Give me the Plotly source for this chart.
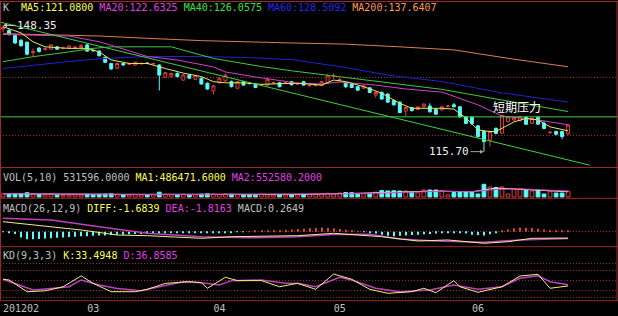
import plotly.graph_objects as go

# ---------------- data ----------------
opens = [147.4, 147.0, 145.8, 144.5, 144.0, 141.3, 142.5, 142.1, 142.2, 142.8,
         142.35, 142.4, 142.5, 142.6, 143.3, 141.9, 141.7, 140.1, 138.5, 137.3,
         138.5, 138.3, 138.1, 138.4, 138.6, 138.4, 138.1, 134.9, 135.1, 135.9,
         134.2, 135.5, 134.4, 134.7, 133.4, 131.4, 133.5, 134.0, 133.8, 132.1,
         133.8, 133.4, 133.1, 132.9, 132.9, 133.4, 133.5, 133.4, 133.8, 133.15,
         133.8, 132.7, 132.8, 132.8, 133.5, 135.2, 134.2, 133.4, 133.1, 132.5,
         132.1, 132.2, 130.3, 131.0, 130.6, 128.9, 128.5, 126.2, 127.1, 126.6,
         127.3, 127.5, 126.6, 126.5, 127.4, 127.8, 127.3, 124.7, 124.6, 122.4,
         120.9, 118.7, 121.7, 120.5, 123.5, 123.9, 123.7, 124.6, 123.0, 124.6,
         123.0, 120.6, 120.9, 120.9, 120.3]
closes = [147.8, 146.0, 143.8, 143.1, 140.9, 141.6, 141.6, 142.3, 143.3, 142.2,
          142.45, 143.0, 142.7, 143.1, 141.7, 141.8, 140.5, 138.8, 137.1, 138.5,
          138.1, 138.4, 138.8, 138.5, 138.5, 138.5, 135.5, 136.1, 135.9, 135.1,
          135.5, 134.7, 135.3, 133.2, 131.9, 132.7, 134.7, 135.4, 132.5, 133.8,
          132.9, 133.3, 132.3, 133.0, 134.4, 133.5, 132.5, 133.5, 133.0, 133.25,
          132.9, 132.8, 132.85, 133.8, 135.3, 135.3, 134.3, 132.5, 132.3, 131.6,
          132.7, 131.0, 131.0, 129.3, 128.5, 127.8, 125.8, 127.1, 126.3, 127.3,
          128.0, 126.0, 125.4, 127.3, 127.5, 127.3, 124.7, 123.0, 123.0, 119.6,
          118.3, 120.9, 120.4, 125.0, 124.7, 124.5, 124.7, 122.8, 124.3, 122.8,
          121.7, 120.7, 120.2, 119.6, 122.6]
highs = [148.35, 147.5, 146.2, 144.8, 144.2, 142.4, 142.7, 142.6, 143.5, 143.0,
         142.7, 143.2, 143.0, 143.5, 143.6, 142.1, 141.9, 140.3, 138.6, 138.7,
         138.7, 138.7, 139.0, 138.7, 138.8, 138.7, 138.3, 136.3, 136.1, 136.2,
         135.8, 135.8, 135.6, 134.9, 133.6, 132.9, 134.9, 135.9, 134.1, 134.0,
         134.0, 133.7, 133.3, 133.2, 134.9, 133.8, 133.7, 133.8, 134.0, 133.5,
         134.0, 133.1, 133.2, 134.0, 135.8, 136.0, 134.7, 133.6, 133.3, 132.7,
         133.0, 132.4, 131.3, 131.3, 130.8, 129.2, 128.7, 127.3, 127.3, 127.5,
         128.2, 128.2, 126.8, 127.6, 127.8, 128.3, 127.5, 124.9, 124.8, 122.6,
         121.2, 121.1, 122.0, 125.3, 124.9, 124.8, 124.9, 124.9, 124.6, 124.9,
         123.6, 121.0, 121.1, 121.1, 122.9]
lows = [146.6, 145.7, 143.5, 142.8, 140.6, 140.2, 141.3, 141.8, 142.0, 142.0,
        142.1, 142.2, 142.3, 142.4, 141.5, 141.5, 140.3, 138.6, 136.8, 137.1,
        137.9, 138.1, 137.9, 138.2, 138.3, 138.2, 131.5, 134.7, 134.9, 134.9,
        134.0, 134.5, 134.2, 133.0, 131.7, 130.5, 133.3, 133.8, 132.3, 131.9,
        132.7, 133.1, 132.1, 132.7, 132.7, 133.2, 132.3, 133.2, 132.8, 132.9,
        132.8, 132.5, 132.5, 132.6, 133.3, 134.5, 133.9, 132.1, 132.1, 131.4,
        131.9, 130.8, 129.7, 129.1, 128.3, 127.6, 125.6, 124.9, 126.1, 126.4,
        127.1, 125.8, 125.2, 126.3, 127.1, 127.1, 124.5, 122.8, 122.6, 119.3,
        115.7, 117.0, 120.2, 120.3, 123.3, 123.6, 123.5, 122.6, 122.8, 122.6,
        121.5, 120.3, 119.9, 118.9, 119.9]
volumes = [300000, 250000, 320000, 280000, 400000, 260000, 220000, 200000, 260000, 180000,
           150000, 170000, 200000, 180000, 260000, 230000, 260000, 280000, 300000, 240000,
           200000, 180000, 220000, 190000, 180000, 200000, 450000, 250000, 200000, 230000,
           250000, 220000, 200000, 260000, 300000, 260000, 230000, 280000, 260000, 220000,
           180000, 200000, 170000, 250000, 200000, 180000, 200000, 190000, 220000, 200000,
           250000, 240000, 260000, 300000, 350000, 300000, 380000, 420000, 400000, 300000,
           280000, 320000, 450000, 600000, 560000, 580000, 550000, 560000, 470000, 380000,
           650000, 650000, 650000, 560000, 200000, 420000, 480000, 520000, 450000, 280000,
           1180000, 930000, 880000, 930000, 280000, 750000, 750000, 650000, 560000, 650000,
           280000, 560000, 370000, 370000, 531596]

# moving averages of price, read at sample candles (index, value)
ma5_idx = [0, 3, 5, 7, 11, 14, 16, 18, 21, 24, 27, 30, 33, 35, 37, 40, 43, 49, 53, 55,
           57, 60, 63, 66, 68, 73, 75, 77, 79, 81, 82, 85, 87, 89, 91, 94]
ma5_val = [148.0, 146.4, 144.1, 142.8, 142.4, 142.4, 141.5, 139.4, 138.5, 138.5, 137.2,
           136.0, 135.1, 133.8, 133.5, 133.5, 133.1, 133.4, 132.9, 134.2, 133.8, 132.5,
           130.8, 128.2, 126.9, 126.9, 126.7, 124.4, 121.3, 120.9, 120.9, 123.4, 124.3,
           123.9, 122.1, 121.08]
ma20_idx = [0, 11, 16, 18, 24, 29, 35, 37, 42, 49, 53, 56, 62, 67, 73, 79, 83, 89, 94]
ma20_val = [146.0, 145.6, 144.1, 143.2, 140.3, 139.4, 137.6, 136.3, 135.0, 133.4, 133.2,
            133.7, 132.9, 131.9, 131.1, 127.8, 124.9, 123.9, 122.63]
ma40_idx = [0, 5, 11, 15, 18, 24, 28, 35, 43, 48, 56, 64, 73, 83, 94]
ma40_val = [138.96, 140.25, 141.5, 142.4, 142.8, 142.8, 142.8, 139.8, 137.7, 136.6,
            135.1, 133.5, 131.8, 129.05, 126.06]
ma60_idx = [0, 5, 11, 16, 24, 33, 41, 48, 56, 64, 73, 83, 94]
ma60_val = [137.2, 138.1, 139.0, 139.7, 140.3, 140.3, 140.0, 139.5, 137.7, 135.5,
            133.8, 130.9, 128.51]
ma200_idx = [0, 16, 24, 33, 48, 57, 66, 75, 85, 94]
ma200_val = [146.2, 145.6, 145.0, 144.4, 143.8, 143.5, 142.8, 142.0, 139.6, 137.64]

# drawn lines: falling trend line and the short-term resistance level
trend_idx = [-0.5, 97.6]
trend_val = [149.2, 112.2]
resistance_level = 124.7

# volume moving averages
vma1_idx = [0, 10, 20, 30, 40, 50, 58, 64, 72, 78, 82, 84, 88, 92, 94]
vma1_val = [300000, 250000, 240000, 250000, 240000, 240000, 330000, 430000, 560000,
            480000, 830000, 780000, 640000, 520000, 486471.6]
vma2_idx = [0, 10, 20, 30, 40, 50, 58, 64, 72, 78, 82, 86, 90, 94]
vma2_val = [320000, 270000, 250000, 240000, 250000, 240000, 300000, 380000, 520000,
            500000, 700000, 760000, 650000, 552580.2]

# MACD
macd_hist = [-0.1, -0.2, -0.6, -1.5, -2.0, -2.0, -1.9, -1.8, -1.7, -1.6, -1.5,
             -1.4, -1.3, -1.2, -1.2, -1.1, -1.0, -1.0, -0.9, -0.8, -0.8,
             -0.7, -0.6, -0.6, -0.5, -0.5, -0.5, -0.4, -0.4, -0.3, -0.3,
             -0.3, -0.2, -0.2, -0.3, -0.4, -0.3, -0.2, -0.2, -0.1, -0.1,
             0.1, 0.2, 0.2, 0.3, 0.3, 0.4, 0.5, 0.6, 0.7, 0.8,
             0.9, 1.0, 1.1, 1.0, 0.9, 0.7, 0.5, 0.3, 0.1, -0.1,
             -0.2, -0.5, -0.8, -1.1, -1.2, -1.1, -1.0, -0.9, -0.8, -0.7,
             -0.6, -0.5, -0.4, -0.3, -0.2, -0.3, -0.5, -0.8, -0.9, -1.0,
             -0.7, -0.4, 0.2, 0.6, 0.9, 1.1, 1.0, 1.0, 0.8, 0.6,
             0.4, 0.3, 0.3, 0.2649]
diff_idx = [0, 5, 13, 19, 24, 33, 38, 49, 55, 63, 69, 74, 80, 84, 88, 94]
diff_val = [2.63, 1.76, 0.45, -0.87, -1.05, -1.74, -1.32, -1.05, -0.42, -1.32, -2.45,
            -2.18, -3.05, -2.63, -1.74, -1.6839]
dea_idx = [0, 8, 16, 24, 33, 41, 49, 55, 61, 66, 72, 80, 86, 94]
dea_val = [3.53, 3.08, 1.32, -0.42, -1.32, -1.6, -1.3, -0.75, -0.68, -1.92, -2.45,
           -2.79, -2.18, -1.8163]

# KD
k_idx = [0, 1, 4, 7, 10, 13, 15, 18, 22, 24, 27, 31, 33, 34, 37, 39, 43, 46, 49, 52,
         55, 58, 61, 64, 68, 70, 72, 75, 76, 79, 83, 86, 89, 91, 94]
k_val = [53, 51, 16.5, 19, 31, 63, 41, 16.5, 16.5, 23.5, 41, 46, 43, 26.5, 59, 49, 49,
         31, 41, 23.5, 68.5, 53, 23.5, 11.8, 16.5, 26.5, 13.5, 49, 31, 14.7, 31, 62.6,
         67.6, 26.5, 33.4948]
d_idx = [0, 2, 5, 8, 11, 13, 16, 19, 23, 26, 30, 33, 36, 38, 43, 47, 49, 52, 56, 58,
         62, 66, 71, 75, 79, 83, 86, 89, 91, 94]
d_val = [53, 41, 21.5, 26, 31, 51, 36, 26, 19.5, 31, 46, 43, 36, 49, 51, 41, 41, 31,
         59, 51, 26.5, 16.5, 21.5, 36, 23.5, 31, 56, 63.5, 46, 36.8585]

month_tick_idx = [0, 14, 35, 55, 78]
month_tick_text = ["201202", "03", "04", "05", "06"]

# ---------------- styling ----------------
W, H = 618, 316
UP = "#e83c3c"
DN = "#54fcfc"
BORDER = "#9a2a2a"
GRID = "#a02c2c"
GDASH = "1px,2px"
MONO = "DejaVu Sans Mono"


def ppy(pix):
    return 1 - pix / H


def ppx(pix):
    return pix / W


n = len(opens)
idx = list(range(n))
is_up = [c >= o for o, c in zip(opens, closes)]

fig = go.Figure()

fig.add_trace(go.Candlestick(
    x=idx, open=opens, high=highs, low=lows, close=closes,
    increasing=dict(line=dict(color=UP, width=1), fillcolor="#000000"),
    decreasing=dict(line=dict(color=DN, width=1), fillcolor=DN),
    whiskerwidth=0, xaxis="x", yaxis="y", hoverinfo="skip", showlegend=False))

for xs, ys, col in [(ma200_idx, ma200_val, "#d88050"), (ma60_idx, ma60_val, "#2222d0"),
                    (ma40_idx, ma40_val, "#40c840"), (ma20_idx, ma20_val, "#d040d0"),
                    (ma5_idx, ma5_val, "#e8e860")]:
    fig.add_trace(go.Scatter(x=xs, y=ys, mode="lines", line=dict(color=col, width=1),
                             xaxis="x", yaxis="y", hoverinfo="skip", showlegend=False))

fig.add_trace(go.Scatter(x=trend_idx, y=trend_val, mode="lines",
                         line=dict(color="#40d040", width=1),
                         xaxis="x", yaxis="y", hoverinfo="skip", showlegend=False))

# volume
fig.add_trace(go.Bar(
    x=idx, y=volumes, width=0.62,
    marker=dict(color=["#000000" if u else DN for u in is_up],
                line=dict(color=[UP if u else DN for u in is_up], width=1)),
    xaxis="x", yaxis="y2", hoverinfo="skip", showlegend=False))
fig.add_trace(go.Scatter(x=vma1_idx, y=vma1_val, mode="lines", line=dict(color="#f0f0b0", width=1),
                         xaxis="x", yaxis="y2", hoverinfo="skip", showlegend=False))
fig.add_trace(go.Scatter(x=vma2_idx, y=vma2_val, mode="lines", line=dict(color="#d040d0", width=1),
                         xaxis="x", yaxis="y2", hoverinfo="skip", showlegend=False))

# MACD
fig.add_trace(go.Bar(
    x=idx, y=macd_hist, width=0.17,
    marker=dict(color=[UP if v > 0 else DN for v in macd_hist], line=dict(width=0)),
    xaxis="x", yaxis="y3", hoverinfo="skip", showlegend=False))
fig.add_trace(go.Scatter(x=dea_idx, y=dea_val, mode="lines", line=dict(color="#c040c0", width=1.5),
                         xaxis="x", yaxis="y3", hoverinfo="skip", showlegend=False))
fig.add_trace(go.Scatter(x=diff_idx, y=diff_val, mode="lines", line=dict(color="#f0f090", width=1),
                         xaxis="x", yaxis="y3", hoverinfo="skip", showlegend=False))

# KD
fig.add_trace(go.Scatter(x=d_idx, y=d_val, mode="lines", line=dict(color="#c040c0", width=1.5),
                         xaxis="x", yaxis="y4", hoverinfo="skip", showlegend=False))
fig.add_trace(go.Scatter(x=k_idx, y=k_val, mode="lines", line=dict(color="#f0f080", width=1),
                         xaxis="x", yaxis="y4", hoverinfo="skip", showlegend=False))

NB = "\u00a0"


def seg(text, color):
    return f'<span style="color:{color}">{text.replace(" ", NB)}</span>'


GREY = "#c0c0c0"
YEL = "#ffff50"
MAG = "#e040e0"
GRN = "#40e040"
BLU = "#2828e6"
ORG = "#ff9a50"

titles = [
    (7, seg("K", GREY) + NB * 2 + seg("MA5:121.0800", YEL) + NB + seg("MA20:122.6325", MAG) + NB
     + seg("MA40:126.0575", GRN) + NB + seg("MA60:128.5092", BLU) + NB + seg("MA200:137.6407", ORG)),
    (177, seg("VOL(5,10) 531596.0000", GREY) + NB + seg("MA1:486471.6000", YEL) + NB
     + seg("MA2:552580.2000", MAG)),
    (208.5, seg("MACD(26,12,9)", GREY) + NB + seg("DIFF:-1.6839", YEL) + NB + seg("DEA:-1.8163", MAG)
     + NB + seg("MACD:0.2649", GREY)),
    (255, seg("KD(9,3,3)", GREY) + NB + seg("K:33.4948", YEL) + NB + seg("D:36.8585", MAG)),
]
annotations = []
for ypix, txt in titles:
    annotations.append(dict(x=ppx(1), y=ppy(ypix), xref="paper", yref="paper", text=txt,
                            showarrow=False, xanchor="left", yanchor="middle",
                            font=dict(family=MONO, size=10, color=GREY)))

annotations.append(dict(x=0, y=max(highs), xref="x", yref="y", text="148.35", showarrow=True,
                        ax=34, ay=0, arrowhead=2, arrowsize=0.8, arrowwidth=1, arrowcolor="#c8c8c8",
                        font=dict(family=MONO, size=11, color="#f0f0f0")))
low_i = lows.index(min(lows))
annotations.append(dict(x=low_i, y=min(lows), xref="x", yref="y", text="115.70", showarrow=True,
                        ax=-35, ay=0, arrowhead=2, arrowsize=0.8, arrowwidth=1, arrowcolor="#a0a0a0",
                        font=dict(family=MONO, size=11, color="#f0f0f0")))
annotations.append(dict(x=85.5, y=127.5, xref="x", yref="y", text="短期压力", showarrow=False,
                        font=dict(family="Noto Sans CJK SC", size=12, color="#ffffff")))

shapes = [dict(type="line", xref="paper", yref="y", x0=0, x1=1, y0=resistance_level,
               y1=resistance_level, line=dict(color="#40d040", width=1))]
for ypix in [1.5, 167.5, 198.3, 246.7, 300.7]:
    shapes.append(dict(type="line", xref="paper", yref="paper", x0=0, x1=1,
                       y0=ppy(ypix), y1=ppy(ypix), line=dict(color=BORDER, width=1)))
for xpix in [0.5, 617]:
    shapes.append(dict(type="line", xref="paper", yref="paper", x0=ppx(xpix), x1=ppx(xpix),
                       y0=ppy(300.7), y1=ppy(1.5), line=dict(color=BORDER, width=1)))

common_y = dict(showticklabels=False, zeroline=False, showline=False, ticks="", fixedrange=True)

fig.update_layout(
    width=W, height=H, margin=dict(l=0, r=0, t=0, b=0),
    paper_bgcolor="#000000", plot_bgcolor="#000000",
    showlegend=False, barmode="overlay", dragmode=False,
    xaxis=dict(domain=[0, 1], range=[-0.5, 102.3], anchor="y4", showgrid=False, zeroline=False,
               showline=False, ticks="", tickmode="array", tickvals=month_tick_idx,
               ticktext=month_tick_text, ticklabelposition="outside right",
               tickfont=dict(family=MONO, size=10, color=GREY),
               rangeslider=dict(visible=False), fixedrange=True),
    yaxis=dict(domain=[ppy(167.5), ppy(2)], range=[111.6, 154.39], tickmode="array",
               tickvals=[120, 135], showgrid=True, gridcolor=GRID, griddash=GDASH, gridwidth=1,
               anchor="x", **common_y),
    yaxis2=dict(domain=[ppy(198.3), ppy(167.5)], range=[-121000, 2743000], showgrid=False,
                anchor="x", **common_y),
    yaxis3=dict(domain=[ppy(246.7), ppy(198.3)], range=[-3.95, 8.79], tickmode="array",
                tickvals=[0], showgrid=True, gridcolor=GRID, griddash=GDASH, gridwidth=1,
                anchor="x", **common_y),
    yaxis4=dict(domain=[ppy(300.7), ppy(246.7)], range=[-10, 148.8], tickmode="array",
                tickvals=[0, 20, 50, 80, 100], showgrid=True, gridcolor=GRID, griddash=GDASH,
                gridwidth=1, anchor="x", **common_y),
    annotations=annotations, shapes=shapes,
)

fig.write_html("out.html")
